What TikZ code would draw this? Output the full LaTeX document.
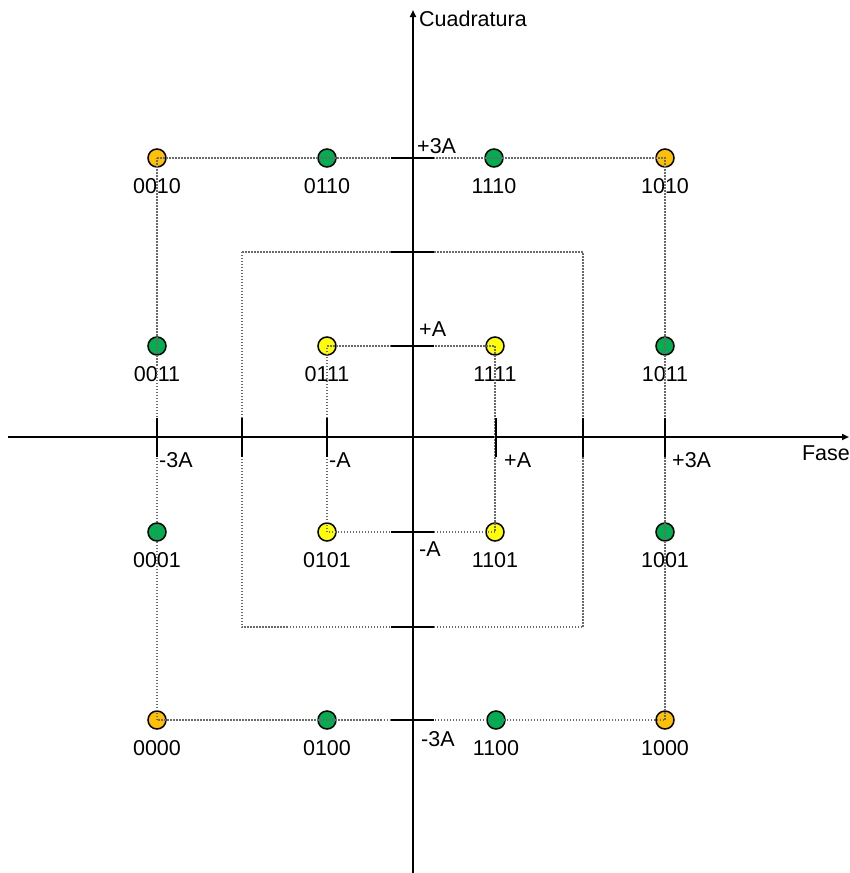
\documentclass[tikz,border=0pt]{standalone}
\usepackage{fontspec}
\setmainfont{Liberation Sans}
\usetikzlibrary{arrows.meta}
\definecolor{ptorange}{HTML}{FFC000}
\definecolor{ptgreen}{HTML}{00B050}
\definecolor{ptyellow}{HTML}{FFFF00}
\definecolor{grid}{HTML}{6A6A6A}
\begin{document}
\begin{tikzpicture}[x=1pt,y=-1pt,
  every node/.style={font=\fontsize{21.5}{25}\selectfont, inner sep=0pt},
  pt/.style={circle, draw=black, line width=1.5pt, minimum size=18pt},
  ptlabel/.style={anchor=center},
  axis/.style={line width=1.8pt, -{Triangle[length=7pt,width=6pt]}},
  tick/.style={line width=1.8pt},
  edge/.style={draw=grid, line width=1.5pt, dash pattern=on 1.5pt off 1.5pt},
  ticklabel/.style={anchor=west}]
\useasboundingbox (0,0) rectangle (849,873);

% axes
\coordinate (xl) at (8,437);
\coordinate (xr) at (849,437);
\coordinate (yb) at (413,873);
\coordinate (yt) at (413,10);
\draw[axis] (xl) -- (xr);
\draw[axis] (yb) -- (yt);
\node[anchor=west] (qlab) at (419,19) {Cuadratura};
\node[anchor=east] (flab) at (850,453) {Fase};

% tick labels
\node[ticklabel] (lm3) at (159,460) {-3A};
\node[ticklabel] (lm1) at (329,460) {-A};
\node[ticklabel] (lp1) at (504,460) {+A};
\node[ticklabel] (lp3) at (672,460) {+3A};
\node[ticklabel] (lq3) at (417,146) {+3A};
\node[ticklabel] (lq1) at (419,329) {+A};
\node[ticklabel] (lqm1) at (419,549) {-A};
\node[ticklabel] (lqm3) at (421,739) {-3A};

% constellation points
\foreach \n/\x/\y/\c in {
  0010/157/158/ptorange, 0110/327/158/ptgreen, 1110/494/158/ptgreen, 1010/665/158/ptorange,
  0011/157/346/ptgreen, 0111/327/346/ptyellow, 1111/495/346/ptyellow, 1011/665/346/ptgreen,
  0001/157/532/ptgreen, 0101/327/532/ptyellow, 1101/495/532/ptyellow, 1001/665/532/ptgreen,
  0000/157/720/ptorange, 0100/327/720/ptgreen, 1100/496/720/ptgreen, 1000/665/720/ptorange}
{
  \node[pt, fill=\c] (p\n) at (\x,\y) {};
  \node[ptlabel] (t\n) at (\x,\y+28) {\n};
}

% middle reference square
\coordinate (m1) at (242,252);
\coordinate (m2) at (583,252);
\coordinate (m3) at (583,627);
\coordinate (m4) at (242,627);
\draw[edge] (m1) -- (m2) -- (m3) -- (m4) -- cycle;

% outer and inner rings through the points
\draw[edge] (p0010.center) -- (p1010.center) -- (p1000.center) -- (p0000.center) -- (p0010.center);
\draw[edge] (p0111.center) -- (p1111.center) -- (p1101.center) -- (p0101.center) -- (p0111.center);

% ticks on the phase axis
\foreach \x in {157,242,327,496,583,665}
  \draw[tick] (\x,418) -- (\x,457);
% ticks on the quadrature axis
\foreach \y in {158,252,346,532,627,720}
  \draw[tick] (391,\y) -- (434,\y);
\end{tikzpicture}
\end{document}
